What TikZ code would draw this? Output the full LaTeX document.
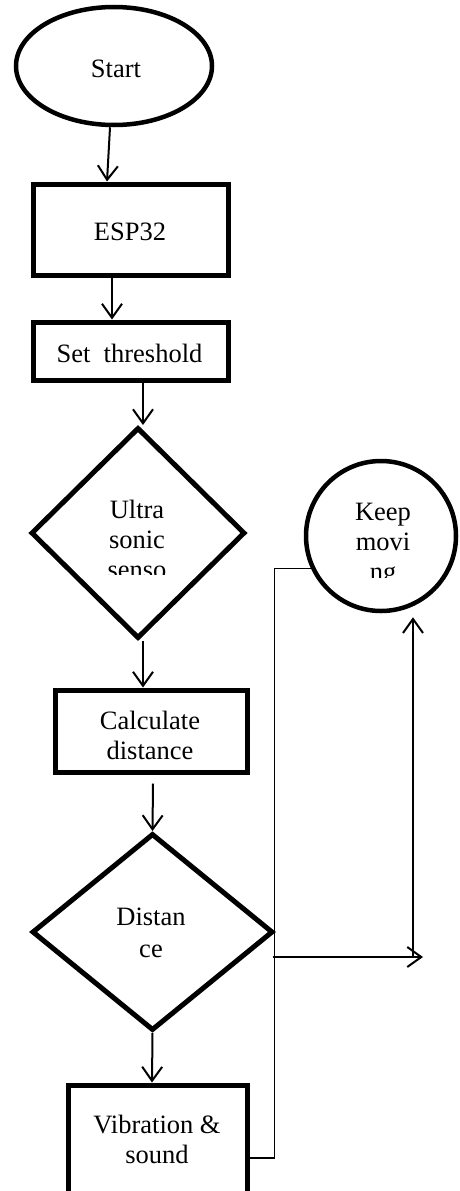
\documentclass[tikz,border=0pt]{standalone}
\usepackage{fontspec}
\setmainfont{Liberation Serif}
\usetikzlibrary{shapes.geometric,arrows.meta,calc}
\begin{document}
\begin{tikzpicture}[x=1pt,y=-1pt,
  box/.style={draw,rectangle,line width=5pt,inner sep=0pt},
  dia/.style={draw,diamond,line width=5pt,inner sep=0pt},
  arr/.style={line width=2pt,-{Straight Barb[length=14pt,width=20pt,line width=2pt]}},
  thinline/.style={line width=1.6pt},
  lbl/.style={anchor=base,inner sep=0pt,font=\fontsize{26.5}{30}\selectfont}]
\path[use as bounding box] (0,0) rectangle (459,1191);
\clip (0,0) rectangle (459,1191);
% shapes
\node[draw,ellipse,line width=4.5pt,inner sep=0pt,minimum width=196pt,minimum height=118pt] (st) at (114,66) {};
\node[box,minimum width=195pt,minimum height=91pt] (esp) at (130.5,229.5) {};
\node[box,minimum width=195pt,minimum height=58pt] (set) at (130.5,351) {};
\node[dia,minimum width=214pt,minimum height=211pt] (us) at (138,533) {};
\node[box,minimum width=192pt,minimum height=82pt] (calc) at (151,731) {};
\node[dia,minimum width=241pt,minimum height=197pt] (dist) at (152.5,932) {};
\node[box,minimum width=179pt,minimum height=115pt] (vib) at (157.5,1142.5) {};
\node[draw,circle,line width=4.5pt,inner sep=0pt,minimum size=150pt] (kp) at (381,536) {};
% texts
\node[lbl] (tst) at (116,77) {Start};
\node[lbl] (tesp) at (130,240) {ESP32};
\node[lbl] (tset) at (129.5,362) {Set\ \ threshold};
\node[lbl] (tus1) at (137,518) {Ultra};
\node[lbl] (tus2) at (137,548) {sonic};
\begin{scope}
\clip (60,540) rectangle (220,574);
\node[lbl] (tus3) at (137,578) {senso};
\end{scope}
\node[lbl] (tkp1) at (383,520) {Keep};
\node[lbl] (tkp2) at (383,550) {movi};
\begin{scope}
\clip (320,555) rectangle (450,577);
\node[lbl] (tkp3) at (383,580) {ng};
\end{scope}
\node[lbl] (tc1) at (150,729) {Calculate};
\node[lbl] (tc2) at (150,759) {distance};
\node[lbl] (td1) at (151,925) {Distan};
\node[lbl] (td2) at (151,957) {ce};
\node[lbl] (tv1) at (157,1133) {Vibration \&};
\node[lbl] (tv2) at (157,1163) {sound};
% connectors
\draw[arr] ($(st.south)+(-4,0)$) -- ($(esp.north)+(-23.5,0)$);
\draw[arr] ($(esp.south)+(-18.5,0)$) -- ($(set.north)+(-18.5,0)$);
\draw[arr] ($(set.south)+(12.5,0)$) -- ($(us.north)+(5,0)$);
\draw[arr] ($(us.south)+(5,0)$) -- ($(calc.north)+(-8,0)$);
\draw[arr] ($(calc.south)+(2,9)$) -- (dist.north);
\draw[arr] (dist.south) -- ($(vib.north)+(-5.5,0)$);
\draw[thinline] ($(vib.east)+(0,15.5)$) -- ++(25,0) |- (kp.205);
\coordinate (hend) at (423,957);
\coordinate (vj) at (413,957);
\draw[arr] ($(dist.east)+(-3,25)$) -- (hend);
\draw[arr] (vj) -- ($(kp.south)+(32,4)$);
\end{tikzpicture}
\end{document}
